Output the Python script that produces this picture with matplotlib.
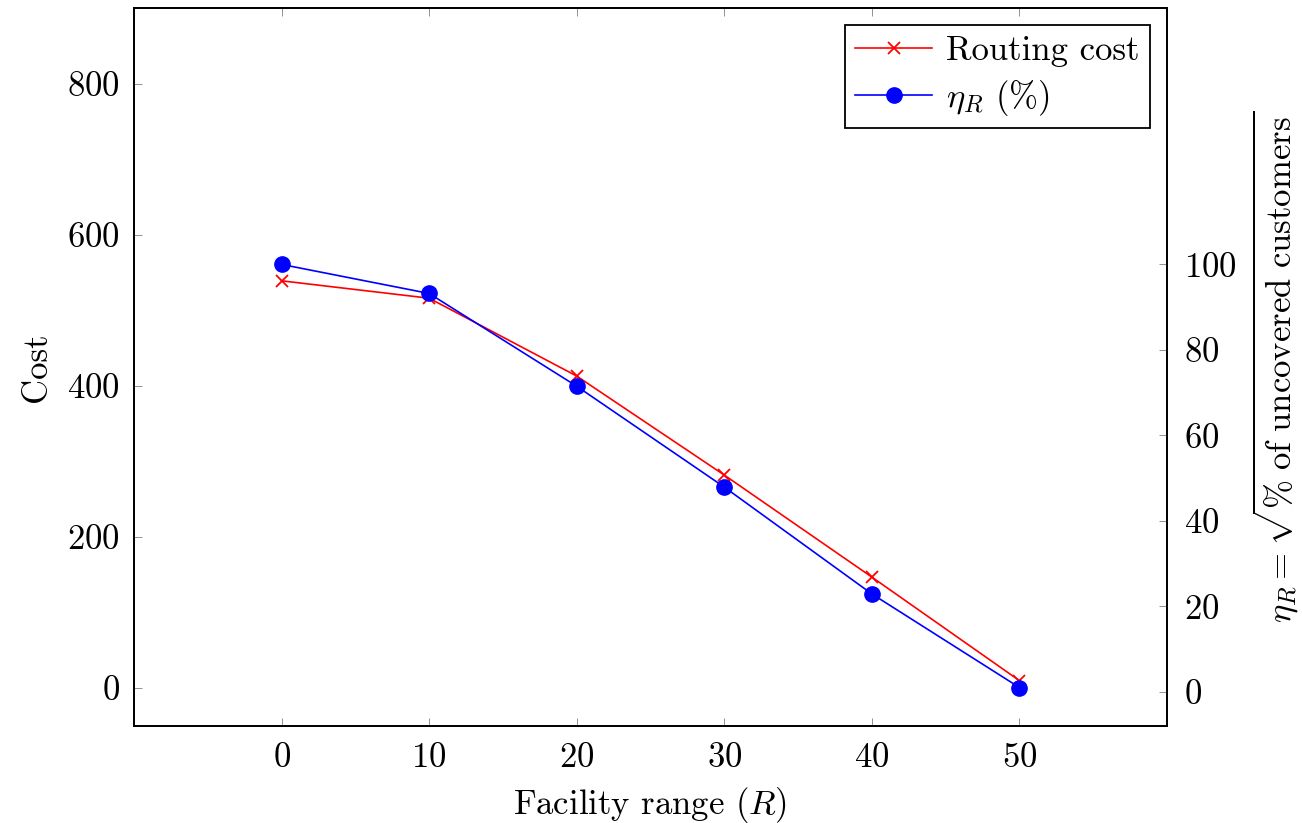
import matplotlib
matplotlib.use("Agg")
import matplotlib.pyplot as plt

# data
facility_range = [0, 10, 20, 30, 40, 50]
routing_cost = [539, 516, 413, 282, 147, 10]
eta_r = [100, 93.2, 71.5, 47.9, 22.9, 1]

plt.rcParams['font.family'] = 'serif'
plt.rcParams['font.serif'] = ['cmr10', 'DejaVu Serif']
plt.rcParams['mathtext.fontset'] = 'cm'
plt.rcParams['axes.formatter.use_mathtext'] = True
fs = 25

fig = plt.figure(figsize=(13.02, 8.23), dpi=100)
ax = fig.add_axes([0.1029, 0.1179, 0.7934, 0.8724])
ax2 = ax.twinx()

l1, = ax.plot(facility_range, routing_cost, color='red', lw=1.2, marker='x',
              markersize=8, markeredgewidth=1.3, label='Routing cost')
l2, = ax2.plot(facility_range, eta_r, color='blue', lw=1.2, marker='o',
               markersize=11, label=r'$\eta_R$ (%)')

ax.set_xlim(-10, 60)
ax.set_ylim(-50, 900)
ax2.set_ylim(-8, 160)
ax.set_xticks([0, 10, 20, 30, 40, 50])
ax.set_yticks([0, 200, 400, 600, 800])
ax2.set_yticks([0, 20, 40, 60, 80, 100])

ax.tick_params(axis='both', direction='in', length=6, width=0.6, colors='#808080',
               labelcolor='black', labelsize=fs, top=True, pad=10)
ax.tick_params(axis='x', pad=12)
ax2.tick_params(axis='y', direction='in', length=6, width=0.6, colors='#808080',
                labelcolor='black', labelsize=fs, pad=12)

for a in (ax, ax2):
    for s in a.spines.values():
        s.set_linewidth(1.3)
        s.set_color('black')

ax.set_xlabel(r'Facility range ($R$)', fontsize=fs, labelpad=8)
ax.set_ylabel('Cost', fontsize=fs, labelpad=10)
ax2.set_ylabel(r'$\eta_R = \sqrt{\%\ \mathrm{of\ uncovered\ customers}}$',
               fontsize=fs, rotation=90, labelpad=10)

leg = ax2.legend([l1, l2], ['Routing cost', r'$\eta_R$ (%)'], loc='upper right',
                 fontsize=fs, frameon=True, fancybox=False, edgecolor='black',
                 framealpha=1, borderaxespad=0.5, handlelength=2.2,
                 handletextpad=0.4, borderpad=0.3, labelspacing=0.3)
leg.get_frame().set_linewidth(1.3)

fig.savefig('out.png', dpi=100)
